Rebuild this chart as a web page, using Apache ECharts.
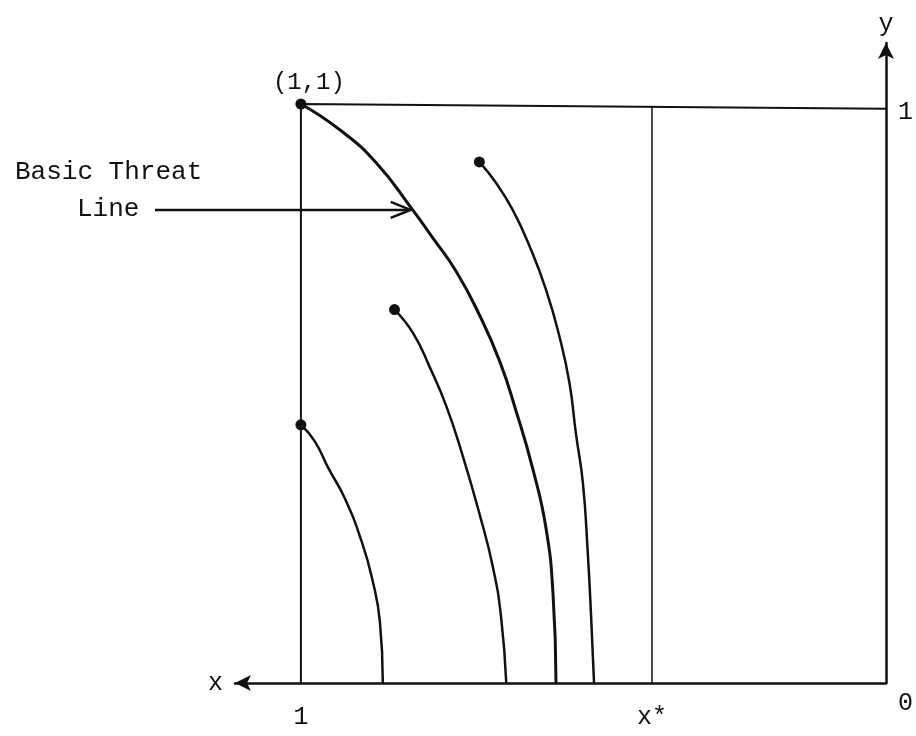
<!DOCTYPE html>
<html>
<head>
<meta charset="utf-8">
<script src="https://cdn.jsdelivr.net/npm/echarts@6/dist/echarts.min.js"></script>
<style>
  html, body { margin: 0; padding: 0; background: #fff; }
  #chart { width: 916px; height: 736px; }
</style>
</head>
<body>
<div id="chart"></div>
<script>
// x runs right to left (origin bottom right), y upward
const xStar = 0.40;
const xTicks = [1, xStar];
const xTickText = ['1', 'x*'];
const yTicks = [0, 1];
const yTickText = ['0', '1'];

// frame: x = 1 side, top at y = 1, x* line
const boxLines = [[1, 0], [1, 1], [0, 0.992]];
const xStarLine = [[xStar, 0], [xStar, 0.995]];

// basic threat line from (1,1)
const threatLine = [
  [1.0, 1.0], [0.933, 0.955], [0.871, 0.898], [0.809, 0.817], [0.774, 0.768],
  [0.734, 0.710], [0.695, 0.636], [0.660, 0.555], [0.632, 0.469], [0.604, 0.371],
  [0.581, 0.267], [0.569, 0.152], [0.564, 0]
];
// other paths
const pathLow = [
  [1.0, 0.446], [0.976, 0.417], [0.953, 0.371], [0.925, 0.319], [0.896, 0.244],
  [0.877, 0.175], [0.865, 0.106], [0.860, 0]
];
const pathMid = [
  [0.840, 0.645], [0.808, 0.604], [0.780, 0.546], [0.751, 0.477], [0.723, 0.391],
  [0.695, 0.293], [0.672, 0.201], [0.658, 0.115], [0.649, 0]
];
const pathHigh = [
  [0.695, 0.900], [0.666, 0.863], [0.638, 0.817], [0.609, 0.754], [0.581, 0.679],
  [0.558, 0.598], [0.541, 0.518], [0.530, 0.431], [0.518, 0.345], [0.510, 0.230],
  [0.504, 0.115], [0.499, 0]
];
const startDots = [[1, 1], [1, 0.446], [0.840, 0.645], [0.695, 0.900]];
const arrowTarget = [0.809, 0.817];

const FONT = 'Liberation Mono';
const ink = '#111';

function pathSeries (data, width) {
  return {
    type: 'line',
    data: data,
    smooth: true,
    showSymbol: false,
    silent: true,
    lineStyle: { color: ink, width: width }
  };
}

const chart = echarts.init(document.getElementById('chart'));
chart.setOption({
  backgroundColor: '#fff',
  animation: false,
  grid: { left: 235, right: 29, top: 43, bottom: 53 },
  xAxis: {
    type: 'value',
    inverse: true,
    min: 0,
    max: 652 / 586,
    name: 'x',
    nameLocation: 'end',
    nameGap: 12,
    nameTextStyle: { color: ink, fontFamily: FONT, fontSize: 25, padding: [8, 0, 0, 0] },
    axisLine: {
      onZero: false,
      symbol: ['arrow', 'none'],
      symbolSize: [12, 16],
      lineStyle: { color: ink, width: 2.5 }
    },
    axisTick: { show: false },
    splitLine: { show: false },
    axisLabel: {
      customValues: xTicks,
      margin: 22,
      color: ink,
      fontFamily: FONT,
      fontSize: 25,
      formatter: v => xTickText[xTicks.indexOf(v)] || ''
    }
  },
  yAxis: {
    type: 'value',
    position: 'right',
    min: 0,
    max: 640 / 579,
    name: 'y',
    nameLocation: 'end',
    nameGap: 6,
    nameTextStyle: { color: ink, fontFamily: FONT, fontSize: 25, align: 'center' },
    axisLine: {
      onZero: false,
      symbol: ['none', 'arrow'],
      symbolSize: [12, 16],
      lineStyle: { color: ink, width: 2.5 }
    },
    axisTick: { show: false },
    splitLine: { show: false },
    axisLabel: {
      customValues: yTicks,
      margin: 12,
      color: ink,
      fontFamily: FONT,
      fontSize: 25,
      formatter: v => v === 0 ? '{zero|' + yTickText[0] + '}' : '{one|' + yTickText[1] + '}',
      rich: {
        zero: { fontFamily: FONT, fontSize: 25, color: ink, padding: [40, 0, 0, 0] },
        one: { fontFamily: FONT, fontSize: 25, color: ink, padding: [16, 0, 0, 0] }
      }
    }
  },
  series: [
    {
      type: 'line', data: boxLines, showSymbol: false, silent: true,
      lineStyle: { color: ink, width: 2 }
    },
    {
      type: 'line', data: xStarLine, showSymbol: false, silent: true,
      lineStyle: { color: ink, width: 1.5 }
    },
    pathSeries(threatLine, 3),
    pathSeries(pathLow, 2.5),
    pathSeries(pathMid, 2.5),
    pathSeries(pathHigh, 2.5),
    {
      type: 'scatter',
      data: startDots,
      symbolSize: 11,
      silent: true,
      itemStyle: { color: ink, opacity: 1 },
      label: {
        show: true,
        position: 'top',
        distance: 4,
        offset: [8, 0],
        color: ink,
        fontFamily: FONT,
        fontSize: 24,
        formatter: p => p.dataIndex === 0 ? '(1,1)' : ''
      }
    }
  ]
});

// "Basic Threat Line" pointer
const tip = chart.convertToPixel({ xAxisIndex: 0, yAxisIndex: 0 }, arrowTarget);
chart.setOption({
  graphic: [
    {
      type: 'text', left: 15, top: 159,
      style: { text: 'Basic Threat', fill: ink, font: '26px "' + FONT + '"' }
    },
    {
      type: 'text', left: 77, top: tip[1] - 14,
      style: { text: 'Line', fill: ink, font: '26px "' + FONT + '"' }
    },
    {
      type: 'line',
      shape: { x1: 155, y1: tip[1], x2: tip[0] - 2, y2: tip[1] },
      style: { stroke: ink, lineWidth: 2.5 }
    },
    {
      type: 'polyline',
      shape: { points: [[tip[0] - 22, tip[1] - 8], [tip[0] - 2, tip[1]], [tip[0] - 22, tip[1] + 8]] },
      style: { stroke: ink, lineWidth: 2.5, fill: null }
    }
  ]
});
</script>
</body>
</html>
